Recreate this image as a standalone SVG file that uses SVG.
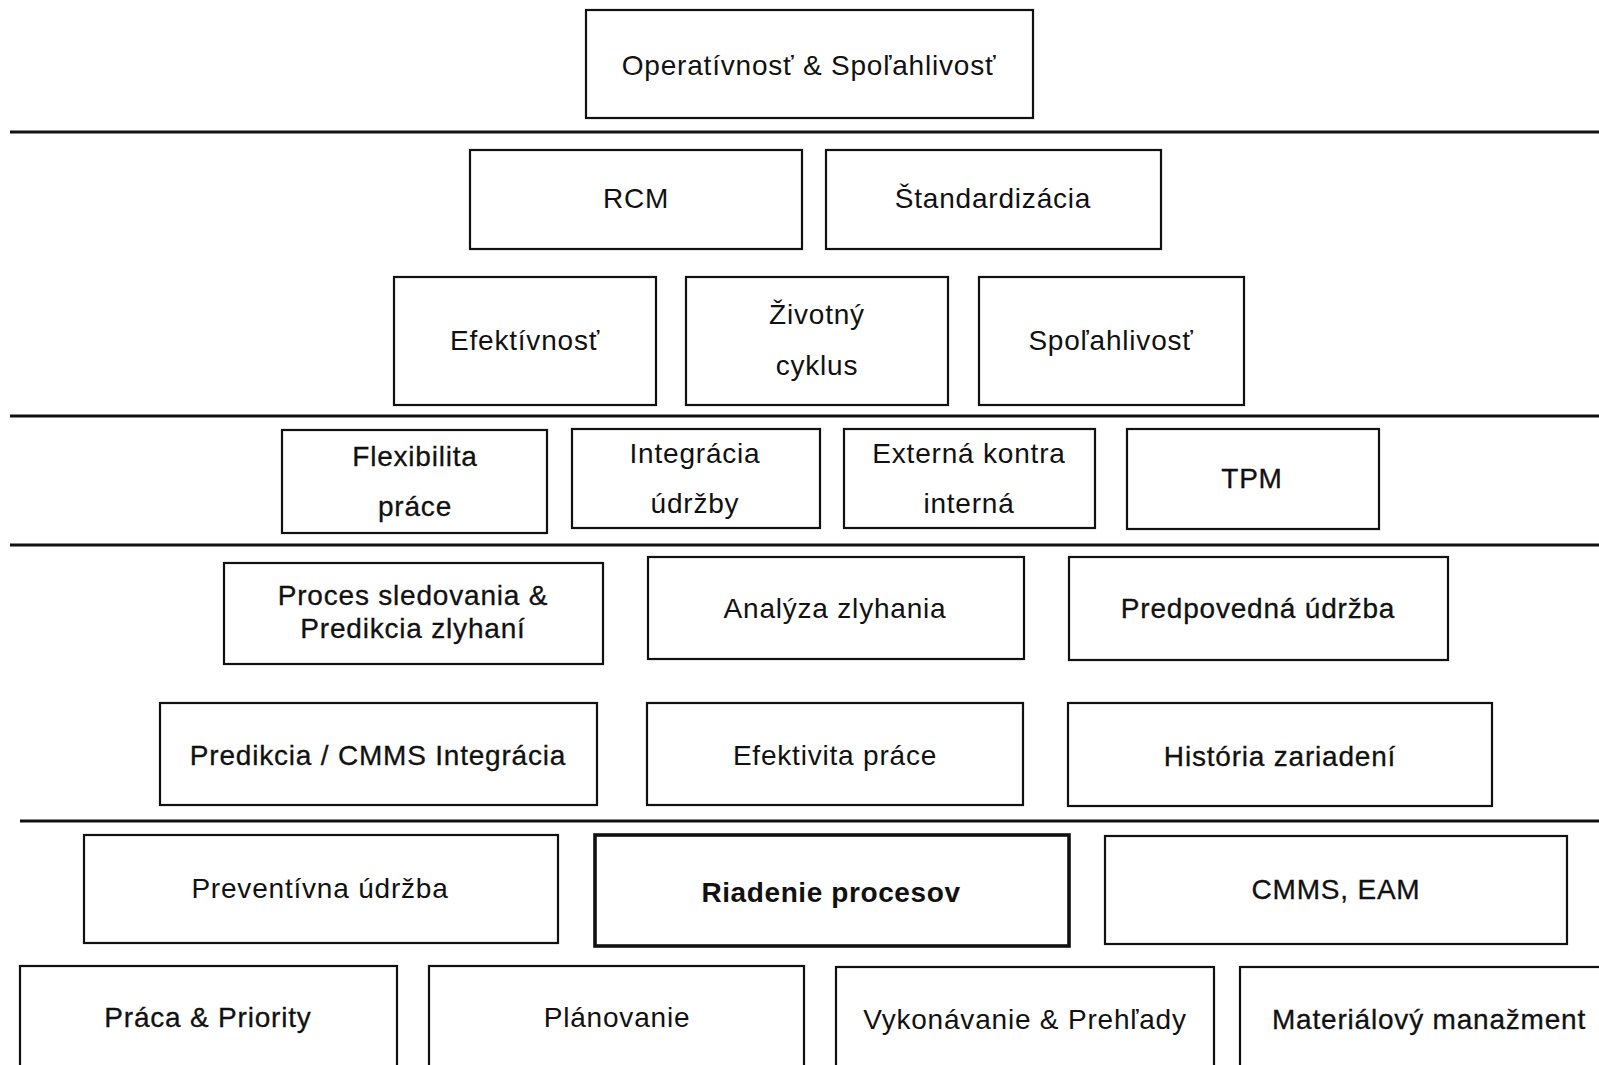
<svg xmlns="http://www.w3.org/2000/svg" width="1599" height="1065" viewBox="0 0 1599 1065">
  <style>
    .box { fill: #ffffff; stroke: #111111; stroke-width: 2.2; }
    .box-strong { fill: #ffffff; stroke: #111111; stroke-width: 3.6; }
    .label { font-family: "Liberation Sans", Arial, sans-serif; font-size: 28px; letter-spacing: 0.8px; fill: #111111; text-anchor: middle; }
    .heavy { stroke: #111111; stroke-width: 0.3; }
    .bold { font-weight: bold; letter-spacing: 0.6px; }
    .divider { stroke: #111111; stroke-width: 3.2; fill: none; }
  </style>
  <rect x="0" y="0" width="1599" height="1065" fill="#ffffff"/>

  <!-- level dividers -->
  <g id="connectors">
    <line class="divider" x1="10" y1="132" x2="1599" y2="132"/>
    <line class="divider" x1="10" y1="416" x2="1599" y2="416"/>
    <line class="divider" x1="10" y1="545" x2="1599" y2="545"/>
    <line class="divider" x1="20" y1="821" x2="1599" y2="821"/>
  </g>

  <!-- level 1 -->
  <g id="operativnost">
    <rect class="box" x="586" y="10" width="447" height="108"/>
    <text class="label" x="809" y="75">Operatívnosť &amp; Spoľahlivosť</text>
  </g>

  <!-- level 2 -->
  <g id="rcm">
    <rect class="box" x="470" y="150" width="332" height="99"/>
    <text class="label" x="636" y="208">RCM</text>
  </g>
  <g id="standardizacia">
    <rect class="box" x="826" y="150" width="335" height="99"/>
    <text class="label" x="993" y="208">Štandardizácia</text>
  </g>

  <g id="efektivnost">
    <rect class="box" x="394" y="277" width="262" height="128"/>
    <text class="label" x="525" y="350">Efektívnosť</text>
  </g>
  <g id="zivotny-cyklus">
    <rect class="box" x="686" y="277" width="262" height="128"/>
    <text class="label" x="817" y="324">Životný</text>
    <text class="label" x="817" y="375">cyklus</text>
  </g>
  <g id="spolahlivost">
    <rect class="box" x="979" y="277" width="265" height="128"/>
    <text class="label" x="1111" y="350">Spoľahlivosť</text>
  </g>

  <!-- level 3 -->
  <g id="flexibilita">
    <rect class="box" x="282" y="430" width="265" height="103"/>
    <text class="label heavy" x="415" y="466">Flexibilita</text>
    <text class="label heavy" x="415" y="516">práce</text>
  </g>
  <g id="integracia">
    <rect class="box" x="572" y="429" width="248" height="99"/>
    <text class="label" x="695" y="463">Integrácia</text>
    <text class="label" x="695" y="513">údržby</text>
  </g>
  <g id="externa">
    <rect class="box" x="844" y="429" width="251" height="99"/>
    <text class="label" x="969" y="463">Externá kontra</text>
    <text class="label" x="969" y="513">interná</text>
  </g>
  <g id="tpm">
    <rect class="box" x="1127" y="429" width="252" height="100"/>
    <text class="label heavy" x="1252" y="488">TPM</text>
  </g>

  <!-- level 4 -->
  <g id="proces-sledovania">
    <rect class="box" x="224" y="563" width="379" height="101"/>
    <text class="label heavy" x="413" y="605">Proces sledovania &amp;</text>
    <text class="label heavy" x="413" y="638">Predikcia zlyhaní</text>
  </g>
  <g id="analyza-zlyhania">
    <rect class="box" x="648" y="557" width="376" height="102"/>
    <text class="label" x="835" y="618">Analýza zlyhania</text>
  </g>
  <g id="predpovedna-udrzba">
    <rect class="box" x="1069" y="557" width="379" height="103"/>
    <text class="label heavy" x="1258" y="618">Predpovedná údržba</text>
  </g>

  <g id="predikcia-cmms">
    <rect class="box" x="160" y="703" width="437" height="102"/>
    <text class="label heavy" x="378" y="765">Predikcia / CMMS Integrácia</text>
  </g>
  <g id="efektivita-prace">
    <rect class="box" x="647" y="703" width="376" height="102"/>
    <text class="label" x="835" y="765">Efektivita práce</text>
  </g>
  <g id="historia-zariadeni">
    <rect class="box" x="1068" y="703" width="424" height="103"/>
    <text class="label heavy" x="1280" y="766">História zariadení</text>
  </g>

  <!-- level 5 -->
  <g id="preventivna-udrzba">
    <rect class="box" x="84" y="835" width="474" height="108"/>
    <text class="label" x="320" y="898">Preventívna údržba</text>
  </g>
  <g id="riadenie-procesov">
    <rect class="box-strong" x="595" y="835" width="474" height="111"/>
    <text class="label bold" x="831" y="902">Riadenie procesov</text>
  </g>
  <g id="cmms-eam">
    <rect class="box" x="1105" y="836" width="462" height="108"/>
    <text class="label heavy" x="1336" y="899">CMMS, EAM</text>
  </g>

  <!-- foundation row -->
  <g id="praca-priority">
    <rect class="box" x="20" y="966" width="377" height="120"/>
    <text class="label heavy" x="208" y="1027">Práca &amp; Priority</text>
  </g>
  <g id="planovanie">
    <rect class="box" x="429" y="966" width="375" height="120"/>
    <text class="label" x="617" y="1027">Plánovanie</text>
  </g>
  <g id="vykonavanie">
    <rect class="box" x="836" y="967" width="378" height="120"/>
    <text class="label" x="1025" y="1029">Vykonávanie &amp; Prehľady</text>
  </g>
  <g id="materialovy-manazment">
    <rect class="box" x="1240" y="967" width="380" height="120"/>
    <text class="label heavy" x="1429" y="1029">Materiálový manažment</text>
  </g>
</svg>
